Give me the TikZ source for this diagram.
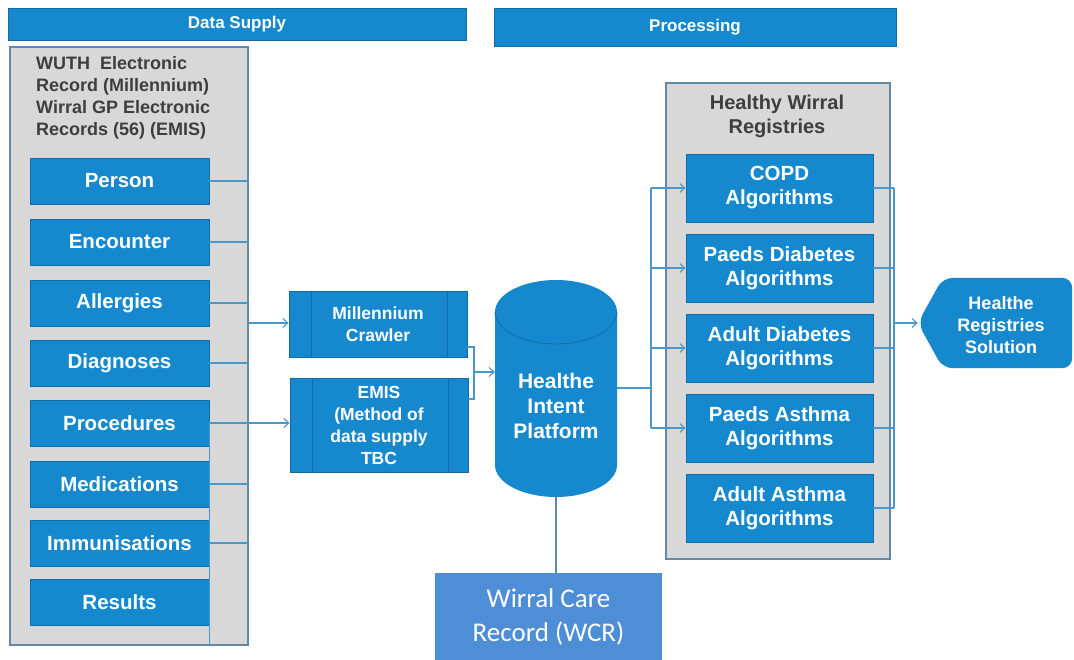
\documentclass[tikz,border=0pt]{standalone}
\usepackage{fontspec}
\setmainfont{Liberation Sans}
\setsansfont{Liberation Sans}
\newfontfamily\calfont{Carlito}
\usetikzlibrary{arrows.meta,calc}
\definecolor{boxblue}{RGB}{22,137,206}
\definecolor{boxedge}{RGB}{16,108,168}
\definecolor{panelgrey}{RGB}{216,216,216}
\definecolor{paneledge}{RGB}{98,138,168}
\definecolor{linecol}{RGB}{72,152,204}
\definecolor{wcrblue}{RGB}{78,142,214}
\definecolor{darktext}{RGB}{62,62,62}
\tikzset{
  bluebox/.style={rectangle, fill=boxblue, draw=boxedge, line width=0.8pt, text=white, align=center, inner sep=0pt},
  header/.style={bluebox, font=\fontsize{17}{20}\selectfont\bfseries},
  srcbox/.style={bluebox, minimum width=179, minimum height=46, font=\fontsize{20.5}{24}\selectfont\bfseries},
  algbox/.style={bluebox, minimum width=187, minimum height=68, font=\fontsize{20.5}{24}\selectfont\bfseries},
  procbox/.style={bluebox, minimum width=178, font=\fontsize{17.5}{22}\selectfont\bfseries},
  panel/.style={rectangle, fill=panelgrey, draw=paneledge, line width=1.2pt, inner sep=0pt},
  conn/.style={draw=linecol, line width=1.1pt},
  arr/.style={conn, -{Straight Barb[length=5pt,width=9pt,line width=1.1pt]}},
  innerline/.style={draw=boxedge, line width=0.8pt}
}
\begin{document}
\begin{tikzpicture}[x=1pt,y=-1pt]
\useasboundingbox (0,0) rectangle (1074,659);
\clip (0,0) rectangle (1074,659);

% headers
\node[header, minimum width=458, minimum height=32] (hds) at (237,24) {Data Supply};
\node[header, minimum width=402, minimum height=38] (hproc) at (695,27) {Processing};

% left panel
\node[panel, minimum width=238, minimum height=598] (lpanel) at (129,346) {};
\node[anchor=north west, inner sep=0pt, align=left, text=darktext, font=\fontsize{18}{22}\selectfont\bfseries] (srctitle) at (36,56)
  {WUTH~~Electronic\\Record (Millennium)\\Wirral GP Electronic\\Records (56) (EMIS)};

\node[srcbox] (person) at (119.5,181) {Person};
\node[srcbox] (enc) at (119.5,242) {Encounter};
\node[srcbox] (all) at (119.5,303) {Allergies};
\node[srcbox] (diag) at (119.5,363) {Diagnoses};
\node[srcbox] (proc) at (119.5,423) {Procedures};
\node[srcbox] (med) at (119.5,484) {Medications};
\node[srcbox] (imm) at (119.5,543) {Immunisations};
\node[srcbox] (res) at (119.5,602.5) {Results};

\coordinate (lbus) at (249,0);
\foreach \n in {person,enc,all,diag,proc,med,imm}{
  \draw[conn] (\n.east) -- (\n.east -| lbus);
}
\draw[conn] (proc.east) -- (proc.east |- lpanel.south);

% processing boxes
\node[procbox, minimum height=66] (crawl) at (378,324) {Millennium\\Crawler};
\node[procbox, minimum height=94] (emis) at (379,425) {EMIS\\(Method of\\data supply\\TBC};
\foreach \n in {crawl,emis}{
  \draw[innerline] ($(\n.north west)+(23,0)$) -- ($(\n.south west)+(23,0)$);
  \draw[innerline] ($(\n.north east)+(-20,0)$) -- ($(\n.south east)+(-20,0)$);
}
\draw[arr] (lbus |- 0,323) -- (crawl.west |- 0,323);
\draw[arr] (proc.east -| lbus) -- (emis.west |- proc.east);

% platform cylinder
\node[minimum width=122, minimum height=217, inner sep=0pt] (plat) at (556,388.5) {};
\fill[boxblue] (495,312) -- (495,465) arc[start angle=180, end angle=0, x radius=61, y radius=32]
   -- (617,312) arc[start angle=0, end angle=-180, x radius=61, y radius=32] -- cycle;
\draw[boxedge, line width=0.8pt] (495,312) arc[start angle=180, end angle=0, x radius=61, y radius=32];
\node[text=white, align=center, font=\fontsize{21}{25}\selectfont\bfseries] (platlabel) at (556,406) {Healthe\\Intent\\Platform};

% bracket to platform
\coordinate (jb) at (474,372);
\draw[conn] (crawl.east |- 0,347) -- (jb |- 0,347) -- (jb |- 0,399) -- (emis.east |- 0,399);
\draw[arr] (jb) -- (plat.west |- jb);

% WCR
\node[rectangle, fill=wcrblue, minimum width=227, minimum height=96, inner sep=0pt] (wcr) at (548.5,621) {};
\node[text=white, align=center, font=\calfont\fontsize{27}{34}\selectfont] (wcrlabel) at (548.5,617) {Wirral Care\\Record (WCR)};
\draw[draw=paneledge, line width=1.2pt] (plat.south) -- (plat.south |- wcr.north);

% right panel
\node[panel, minimum width=224, minimum height=476] (rpanel) at (778,321) {};
\node[text=darktext, align=center, font=\fontsize{20}{24}\selectfont\bfseries] (regtitle) at (777,116) {Healthy Wirral\\Registries};
\node[algbox] (copd) at (779.5,188) {COPD\\Algorithms};
\node[algbox] (pdia) at (779.5,268) {Paeds Diabetes\\Algorithms};
\node[algbox] (adia) at (779.5,348) {Adult Diabetes\\Algorithms};
\node[algbox] (pasth) at (779.5,428) {Paeds Asthma\\Algorithms};
\node[algbox] (aasth) at (779.5,508) {Adult Asthma\\Algorithms};

% platform to algorithms
\coordinate (pbus) at (651,388);
\draw[conn] (plat.east |- pbus) -- (pbus);
\draw[conn] (pbus |- copd.west) -- (pbus |- pasth.west);
\foreach \n in {copd,pdia,adia,pasth}{
  \draw[arr] (pbus |- \n.west) -- (\n.west);
}

% algorithms to solution
\coordinate (rbus) at (894,323);
\foreach \n in {copd,pdia,adia,pasth,aasth}{
  \draw[conn] (\n.east) -- (\n.east -| rbus);
}
\draw[conn] (copd.east -| rbus) -- (aasth.east -| rbus);

% solution shape
\node[minimum width=156, minimum height=90, inner sep=0pt] (sol) at (996,323) {};
\fill[boxblue, rounded corners=10pt] (sol.west) -- ($(sol.north west)+(25,0)$) -- ($(sol.north east)+(-2,0)$)
   -- ($(sol.south east)+(-2,0)$) -- ($(sol.south west)+(25,0)$) -- cycle;
\node[text=white, align=center, font=\fontsize{18}{22}\selectfont\bfseries] (soltext) at (1001,325) {Healthe\\Registries\\Solution};
\draw[arr] (rbus) -- (sol.west);
\end{tikzpicture}
\end{document}
